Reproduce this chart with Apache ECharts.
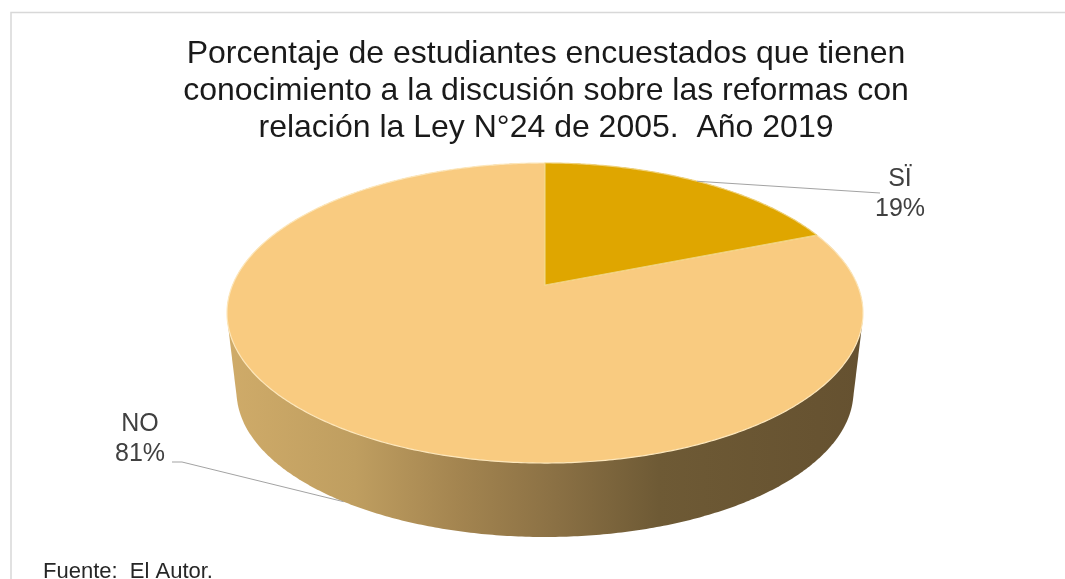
<!DOCTYPE html>
<html>
<head>
<meta charset="utf-8">
<style>html,body{margin:0;padding:0;background:#fff}#chart{width:1065px;height:579px}</style>
<script src="https://cdn.jsdelivr.net/npm/echarts@6/dist/echarts.min.js"></script>
</head>
<body>
<div id="chart"></div>
<script>
// Survey result
const categories = ['SÏ', 'NO'];
const values = [19, 81];
const titleLines = [
  'Porcentaje de estudiantes encuestados que tienen',
  'conocimiento a la discusión sobre las reformas con',
  'relación la Ley N°24 de 2005.  Año 2019'
];
const sourceNote = 'Fuente:  El Autor.';

const FONT = '"Liberation Sans", Arial, sans-serif';
const sliceColors = ['#dfa600', '#f9cb80'];
const rimColors = ['#f0d27a', '#fde7bb'];

// Tilted-disc projection: unit circle -> screen, with foreshortening towards the back.
const disc = { cx: 545, cy: 285, rx: 312.4, ry: 144.8, persp: 0.1867 };
const base = { scale: 0.97, drop: 79.3 };

function project(angle, onBase) {
  const u = Math.sin(angle), v = Math.cos(angle);
  const w = 1 + disc.persp * v;
  const s = onBase ? base.scale : 1;
  return [
    disc.cx + s * disc.rx * u / w,
    disc.cy + (onBase ? base.drop : 0) - s * disc.ry * v / w
  ];
}

function arcPoints(a0, a1, onBase) {
  const n = Math.max(8, Math.ceil((a1 - a0) / 0.01));
  const pts = [];
  for (let i = 0; i <= n; i++) pts.push(project(a0 + (a1 - a0) * i / n, onBase));
  return pts;
}

function convexHull(points) {
  const p = points.slice().sort((a, b) => a[0] - b[0] || a[1] - b[1]);
  const cross = (o, a, b) => (a[0] - o[0]) * (b[1] - o[1]) - (a[1] - o[1]) * (b[0] - o[0]);
  const build = list => {
    const h = [];
    for (const q of list) {
      while (h.length >= 2 && cross(h[h.length - 2], h[h.length - 1], q) <= 0) h.pop();
      h.push(q);
    }
    h.pop();
    return h;
  };
  return build(p).concat(build(p.slice().reverse()));
}

const total = values.reduce((a, b) => a + b, 0);
const wallFill = new echarts.graphic.LinearGradient(228, 0, 862, 0, [
  { offset: 0, color: '#cfab69' },
  { offset: 0.2, color: '#bf9e60' },
  { offset: 0.36, color: '#a48550' },
  { offset: 0.52, color: '#8a7044' },
  { offset: 0.68, color: '#6e5a35' },
  { offset: 1, color: '#655130' }
], true);

// Label anchors: text block centre and the leader's outer end.
const labelLayout = [
  { elbow: [880, 193], tail: null, text: [900, 194], onBase: false },
  { elbow: [182, 462], tail: [172, 462], text: [140, 439], onBase: true }
];

function renderSlice(params, api) {
  const i = params.dataIndex;
  const before = values.slice(0, i).reduce((a, b) => a + b, 0);
  const a0 = before / total * Math.PI * 2;
  const a1 = (before + values[i]) / total * Math.PI * 2;
  const mid = (a0 + a1) / 2;
  const topArc = arcPoints(a0, a1, false);
  const baseArc = arcPoints(a0, a1, true);
  const layout = labelLayout[i];
  const leader = [project(mid, layout.onBase), layout.elbow];
  if (layout.tail) leader.push(layout.tail);
  return {
    type: 'group',
    children: [
      {
        type: 'polygon', z2: 1,
        shape: { points: convexHull(topArc.concat(baseArc)) },
        style: { fill: wallFill }
      },
      {
        type: 'polygon', z2: i === 0 ? 3 : 2,
        shape: { points: [[disc.cx, disc.cy]].concat(topArc) },
        style: { fill: sliceColors[i], stroke: rimColors[i], lineWidth: 1.2, lineJoin: 'round' }
      },
      {
        type: 'polyline', z2: 4,
        shape: { points: leader },
        style: { fill: null, stroke: '#a3a3a3', lineWidth: 1 }
      },
      {
        type: 'text', z2: 5,
        style: {
          x: layout.text[0], y: layout.text[1],
          text: api.value(0) + '\n' + api.value(1) + '%',
          align: 'center', verticalAlign: 'middle',
          font: '25px ' + FONT, lineHeight: 30, fill: '#404040'
        }
      }
    ]
  };
}

const chart = echarts.init(document.getElementById('chart'), null, { renderer: 'canvas' });
chart.setOption({
  animation: false,
  backgroundColor: '#ffffff',
  title: [
    {
      text: titleLines.join('\n'),
      left: 546, top: 36, padding: 0, textAlign: 'center',
      textStyle: { fontFamily: FONT, fontSize: 32, fontWeight: 'normal', color: '#1a1a1a', lineHeight: 37 }
    },
    {
      text: sourceNote,
      left: 43, top: 561, padding: 0,
      textStyle: { fontFamily: FONT, fontSize: 22, fontWeight: 'normal', color: '#262626' }
    }
  ],
  graphic: [
    { type: 'rect', silent: true, z: -1,
      shape: { x: 11, y: 12.5, width: 1100, height: 700 },
      style: { fill: null, stroke: '#d8d8d8', lineWidth: 1.5 } }
  ],
  series: [{
    type: 'custom',
    coordinateSystem: 'none',
    silent: true,
    renderItem: renderSlice,
    data: categories.map((c, i) => [c, values[i]])
  }]
});
</script>
</body>
</html>
